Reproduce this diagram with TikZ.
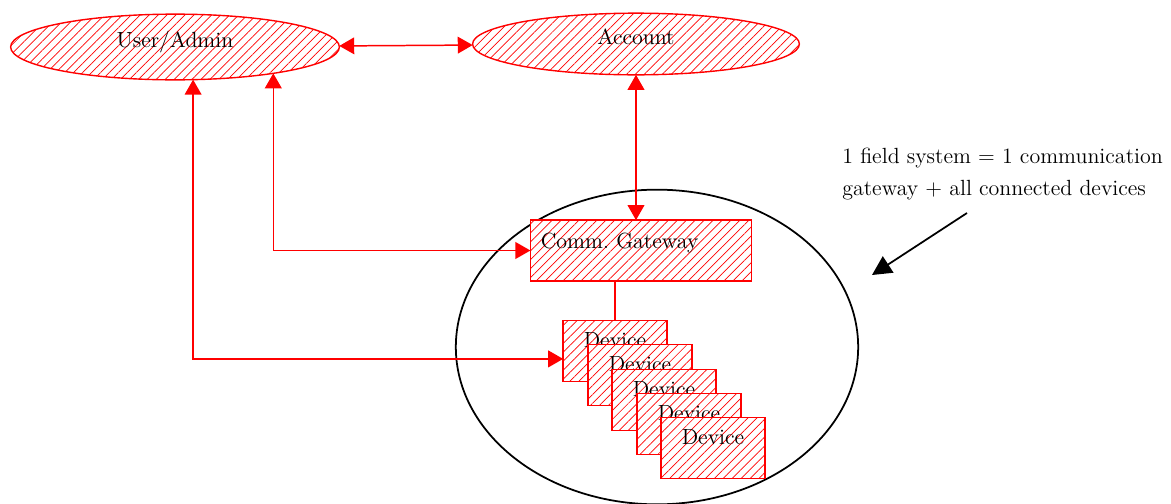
\documentclass[tikz,border=0pt]{standalone}
\usetikzlibrary{shapes.geometric,arrows.meta,patterns.meta}

\begin{document}
\begin{tikzpicture}[x=.02cm, y=-.02cm, >={Triangle[length=8.5pt,width=9.5pt]},
    hatch/.style={draw=red, line width=.8pt, preaction={fill=white},
        pattern={Lines[angle=45,distance=3.6pt,line width=.4pt]}, pattern color=red,
        inner sep=0pt, outer sep=0pt, font=\fontsize{12.5}{15}\selectfont},
    oval/.style={hatch, ellipse, text height=4pt, text depth=4pt},
    devbox/.style={hatch, rectangle, minimum width=59pt, text height=15.3pt, text depth=19.3pt},
    link/.style={red, line width=.85pt, <->}]
    \useasboundingbox (0,0) rectangle (1171,504);
    % field system
    \node[draw, line width=1pt, ellipse, minimum width=229pt, minimum height=179.1pt, inner sep=0pt, outer sep=0pt] (field) at (657,347) {};
    \node[oval, minimum width=187.1pt, minimum height=37.4pt] (user) at (175,47) {User/Admin};
    \node[oval, minimum width=186pt, minimum height=35.1pt] (acct) at (636,44) {Account};
    \node[hatch, rectangle, inner xsep=6pt, text width=113.9pt, align=left, text height=16pt, text depth=18.6pt] (gw) at (641,250.5) {Comm.\ Gateway};
    \node[devbox] (dev1) at (615,351) {Device};
    \node[devbox] (dev2) at (640,375) {Device};
    \node[devbox] (dev3) at (664,400) {Device};
    \node[devbox] (dev4) at (689,424) {Device};
    \node[devbox] (dev5) at (713,448) {Device};
    \draw[red, line width=.85pt] (dev1.north) -- (dev1.north |- gw.south);
    \draw[link] (user) -- (acct);
    \draw[link] (acct.south) -- (acct.south |- gw.north);
    \draw[link] (user.-15.4) |- (gw.west);
    \draw[link] (user.-61) |- ([yshift=-4.5pt]dev1.west);
    % note
    \node[anchor=west, align=left, inner sep=0pt, font=\fontsize{12.5}{18}\selectfont] (note) at (842,174) {1 field system = 1 communication\\gateway + all connected devices};
    \coordinate (tail) at (967,213);
    \coordinate (tip) at (872,275);
    \draw[line width=1pt, -{Triangle[length=11pt,width=11pt]}] (tail) -- (tip);
\end{tikzpicture}
\end{document}
